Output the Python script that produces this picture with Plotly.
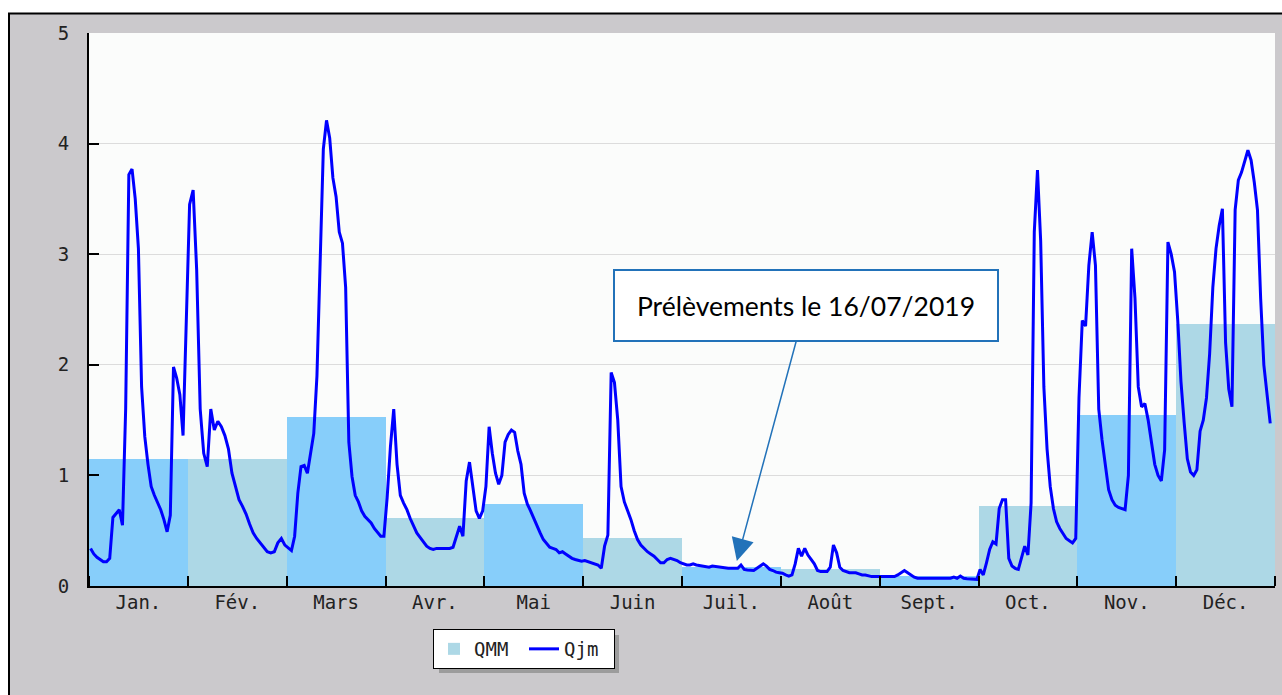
import plotly.graph_objects as go

# ---------------- data ----------------
months = ["Jan.", "Fév.", "Mars", "Avr.", "Mai", "Juin",
          "Juil.", "Août", "Sept.", "Oct.", "Nov.", "Déc."]
days_in_month = [31, 28, 31, 30, 31, 30, 31, 31, 30, 31, 30, 31]

# QMM : monthly mean flow
qmm = [1.15, 1.15, 1.53, 0.615, 0.74, 0.435, 0.175, 0.15, 0.09, 0.72, 1.55, 2.37]

# Qjm : daily mean flow, one list per month
qjm_jan = [0.34, 0.29, 0.26, 0.24, 0.22, 0.22, 0.25, 0.62, 0.66, 0.69, 0.55, 1.6, 3.72, 3.77, 3.5, 3.05,
           1.8, 1.35, 1.1, 0.9, 0.82, 0.76, 0.69, 0.6, 0.49, 0.64, 1.98, 1.88, 1.73, 1.36, 2.3]
qjm_feb = [3.45, 3.58, 2.86, 1.6, 1.2, 1.08, 1.6, 1.41, 1.49, 1.44, 1.36, 1.24, 1.02, 0.9, 0.78, 0.72,
           0.65, 0.56, 0.48, 0.43, 0.39, 0.34, 0.31, 0.3, 0.31, 0.39, 0.43, 0.37]
qjm_mar = [0.34, 0.32, 0.45, 0.84, 1.08, 1.09, 1.02, 1.2, 1.38, 1.9, 3.0, 3.95, 4.21, 4.05, 3.69, 3.52,
           3.2, 3.1, 2.7, 1.3, 0.99, 0.82, 0.76, 0.68, 0.63, 0.6, 0.57, 0.52, 0.48, 0.45, 0.45]
qjm_apr = [0.8, 1.26, 1.6, 1.1, 0.82, 0.75, 0.69, 0.61, 0.55, 0.48, 0.44, 0.4, 0.36, 0.34, 0.33, 0.34,
           0.34, 0.34, 0.34, 0.34, 0.35, 0.45, 0.54, 0.45, 0.95, 1.12, 0.88, 0.68, 0.61, 0.68]
qjm_may = [0.9, 1.44, 1.2, 1.02, 0.92, 1.0, 1.3, 1.37, 1.41, 1.39, 1.22, 1.1, 0.84, 0.74, 0.68, 0.61,
           0.54, 0.48, 0.42, 0.38, 0.35, 0.34, 0.33, 0.3, 0.31, 0.29, 0.27, 0.25, 0.24, 0.235, 0.225]
qjm_jun = [0.23, 0.22, 0.21, 0.2, 0.19, 0.16, 0.36, 0.46, 1.93, 1.84, 1.5, 0.9, 0.76, 0.68, 0.6, 0.5,
           0.42, 0.37, 0.34, 0.31, 0.29, 0.27, 0.24, 0.21, 0.21, 0.24, 0.25, 0.24, 0.23, 0.21]
qjm_jul = [0.2, 0.19, 0.19, 0.2, 0.19, 0.185, 0.18, 0.17, 0.17, 0.18, 0.175, 0.17, 0.17, 0.165, 0.16, 0.16,
           0.16, 0.16, 0.19, 0.15, 0.145, 0.14, 0.14, 0.16, 0.18, 0.2, 0.18, 0.15, 0.14, 0.125, 0.12]
qjm_aug = [0.115, 0.1, 0.09, 0.1, 0.2, 0.34, 0.27, 0.34, 0.28, 0.24, 0.2, 0.14, 0.13, 0.13, 0.13, 0.17,
           0.37, 0.3, 0.17, 0.14, 0.13, 0.12, 0.12, 0.12, 0.11, 0.1, 0.1, 0.09, 0.085, 0.085, 0.085]
qjm_sep = [0.085, 0.085, 0.085, 0.085, 0.085, 0.1, 0.12, 0.14, 0.12, 0.1, 0.08, 0.07, 0.07, 0.07, 0.07,
           0.07, 0.07, 0.07, 0.07, 0.07, 0.07, 0.07, 0.08, 0.07, 0.09, 0.07, 0.065, 0.065, 0.06, 0.06]
qjm_oct = [0.15, 0.1, 0.21, 0.33, 0.4, 0.38, 0.7, 0.78, 0.78, 0.25, 0.18, 0.16, 0.15, 0.25, 0.36, 0.28,
           0.75, 3.2, 3.76, 3.12, 1.8, 1.24, 0.9, 0.7, 0.58, 0.52, 0.47, 0.43, 0.41, 0.39, 0.43]
qjm_nov = [1.7, 2.4, 2.35, 2.9, 3.2, 2.9, 1.6, 1.32, 1.1, 0.87, 0.78, 0.73, 0.71, 0.7, 0.69, 1.0,
           3.05, 2.6, 1.8, 1.62, 1.65, 1.5, 1.28, 1.1, 1.0, 0.95, 1.23, 3.11, 3.0, 2.84]
qjm_dec = [2.4, 1.85, 1.48, 1.15, 1.03, 1.0, 1.05, 1.4, 1.5, 1.7, 2.1, 2.7, 3.05, 3.26, 3.41, 2.2,
           1.78, 1.62, 3.4, 3.67, 3.74, 3.83, 3.94, 3.85, 3.65, 3.4, 2.6, 2.0, 1.75, 1.47]

qjm_by_month = [qjm_jan, qjm_feb, qjm_mar, qjm_apr, qjm_may, qjm_jun,
                qjm_jul, qjm_aug, qjm_sep, qjm_oct, qjm_nov, qjm_dec]

annot_text = "Prélèvements le 16/07/2019"

# ---------------- geometry helpers ----------------
W, H = 1282, 695
ML, MR, MT, MB = 89, 7, 33, 109
PW, PH = W - ML - MR, H - MT - MB


def px2x(px):
    return (px - ML) / PW


def py2y(py):
    return (H - MB - py) / PH


# daily positions along the month axis (each month = 1 unit)
x_days, y_days = [], []
for m, (vals, nd) in enumerate(zip(qjm_by_month, days_in_month)):
    for d, v in enumerate(vals):
        x_days.append(m + (d + 0.5) / nd)
        y_days.append(v)

light_idx = [i for i in range(12) if i % 2 == 1]
sky_idx = [i for i in range(12) if i % 2 == 0]

fig = go.Figure()
fig.add_trace(go.Bar(
    x=[i + 0.5 for i in light_idx], y=[qmm[i] for i in light_idx], width=1,
    marker=dict(color="#ADD8E6", line=dict(width=0)), name="QMM",
    legendgroup="qmm", hoverinfo="skip"))
fig.add_trace(go.Bar(
    x=[i + 0.5 for i in sky_idx], y=[qmm[i] for i in sky_idx], width=1,
    marker=dict(color="#87CEFA", line=dict(width=0)), name="QMM",
    legendgroup="qmm", showlegend=False, hoverinfo="skip"))
fig.add_trace(go.Scatter(
    x=x_days, y=y_days, mode="lines", name="Qjm",
    line=dict(color="#0000FF", width=3)))

mono = dict(family="DejaVu Sans Mono", size=19, color="#222222")

fig.update_layout(
    width=W, height=H,
    margin=dict(l=ML, r=MR, t=MT, b=MB, pad=0),
    paper_bgcolor="#cbc9cc", plot_bgcolor="#fbfcfb",
    barmode="overlay", bargap=0,
    showlegend=True,
    legend=dict(orientation="h", x=px2x(433), y=py2y(629),
                xanchor="left", yanchor="top",
                bgcolor="white", bordercolor="black", borderwidth=1,
                font=mono, traceorder="normal", entrywidth=45),
    xaxis=dict(range=[0, 12], tickvals=[i + 0.5 for i in range(12)], ticktext=months,
               ticks="", showline=True, linecolor="black", linewidth=2,
               showgrid=False, zeroline=False, tickfont=mono, ticklabelstandoff=-2,
               minor=dict(tickvals=list(range(13)), ticks="inside", ticklen=10,
                          tickwidth=2, tickcolor="black", showgrid=False)),
    yaxis=dict(range=[0, 5], tickvals=[0, 1, 2, 3, 4, 5], ticks="inside", ticklen=10,
               tickwidth=2, tickcolor="black", showline=True, linecolor="black",
               linewidth=2, showgrid=True, gridcolor="#dcdcdc", gridwidth=1,
               zeroline=False, tickfont=mono, ticklabelstandoff=14),
)

shapes = [
    # white page margin at top and left
    dict(type="rect", xref="paper", yref="paper", x0=px2x(0), x1=px2x(W), y0=py2y(13), y1=py2y(0),
         fillcolor="white", line=dict(width=0), layer="below"),
    dict(type="rect", xref="paper", yref="paper", x0=px2x(0), x1=px2x(9), y0=py2y(H), y1=py2y(0),
         fillcolor="white", line=dict(width=0), layer="below"),
    # black frame edges
    dict(type="line", xref="paper", yref="paper", x0=px2x(8), x1=px2x(W), y0=py2y(13.5), y1=py2y(13.5),
         line=dict(color="black", width=2)),
    dict(type="line", xref="paper", yref="paper", x0=px2x(9), x1=px2x(9), y0=py2y(13), y1=py2y(H),
         line=dict(color="black", width=2)),
    # legend shadow
    dict(type="rect", xref="paper", yref="paper", x0=px2x(439), x1=px2x(619), y0=py2y(673), y1=py2y(635),
         fillcolor="#9c9c9c", line=dict(width=0)),
]
fig.update_layout(shapes=shapes)

fig.add_annotation(
    x=6.555, y=0.226, xref="x", yref="y",
    text=annot_text, showarrow=True, ax=69, ay=-255.5,
    arrowhead=2, arrowsize=3, arrowwidth=1.5, arrowcolor="#2272b9",
    bordercolor="#2272b9", borderwidth=2, borderpad=1, bgcolor="white",
    width=380, height=67,
    font=dict(family="Lato", size=26.5, color="black"))

fig.write_html("out.html", config={"displayModeBar": False},
               post_script="document.body.style.margin='0';")
